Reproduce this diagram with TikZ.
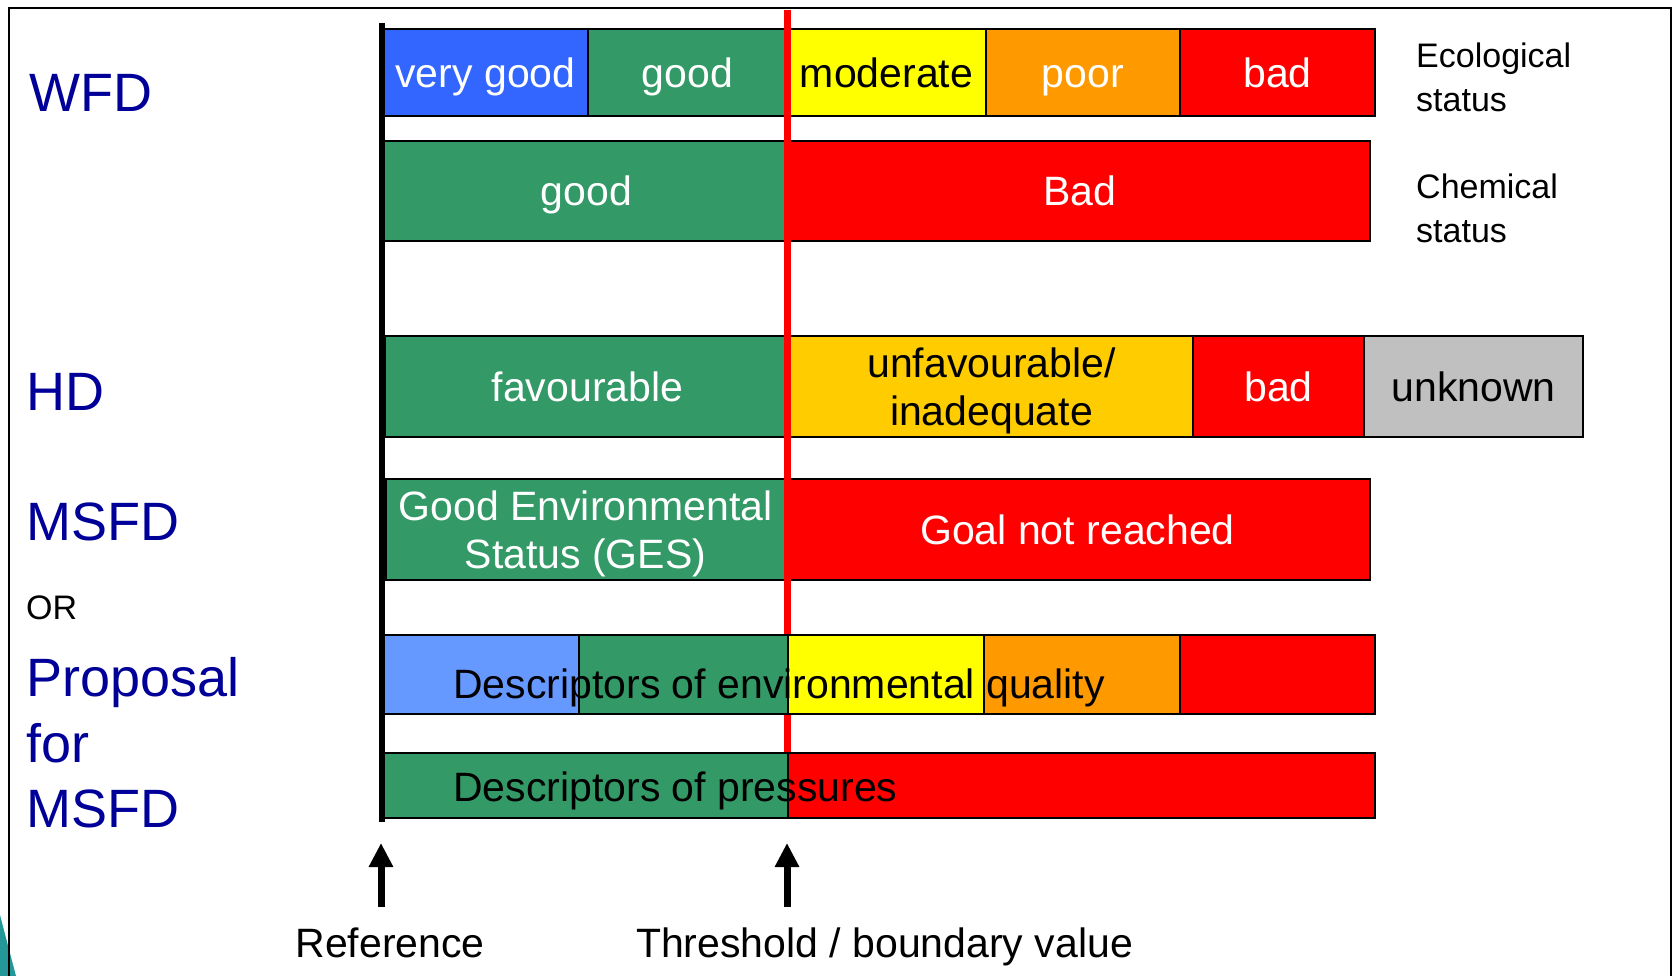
\documentclass[tikz,border=0pt]{standalone}
\usepackage{fontspec}
\setmainfont{Liberation Sans}
\usetikzlibrary{arrows.meta}
\definecolor{sblue}{RGB}{51,102,255}
\definecolor{lblue}{RGB}{102,153,255}
\definecolor{sgreen}{RGB}{51,153,102}
\definecolor{syellow}{RGB}{255,255,0}
\definecolor{sorange}{RGB}{255,153,0}
\definecolor{sred}{RGB}{255,0,0}
\definecolor{samber}{RGB}{255,204,0}
\definecolor{sgrey}{RGB}{192,192,192}
\definecolor{navy}{RGB}{0,0,153}
\definecolor{corner}{RGB}{36,152,152}

\tikzset{
	seg/.style={draw=black, line width=2pt, inner sep=0pt, anchor=north west,
		text=white, align=center, font=\fontsize{41}{48}\selectfont},
	one/.style={text height=29.5pt, text depth=0pt},
	two/.style={text depth=0pt},
	dir/.style={text=navy, inner sep=0pt, font=\fontsize{54}{65.5}\selectfont},
	side/.style={inner sep=0pt, align=left, anchor=north west, font=\fontsize{34}{44}\selectfont},
	foot/.style={inner sep=0pt, anchor=base, font=\fontsize{41}{48}\selectfont},
	limit/.style={draw=sred, line width=7pt},
	up/.style={line width=7pt, -{Triangle[length=24pt,width=23pt]}}
}

\begin{document}
\begin{tikzpicture}[x=1pt, y=-1pt]
			\useasboundingbox (0,0) rectangle (1676,976);
			\fill[corner] (0,915) -- (16,976) -- (0,976) -- cycle;
			\draw[line width=1.5pt] (9,980) -- (9,8) -- (1671,8) -- (1671,980);

			% WFD
			\node[seg, one, fill=sblue, minimum width=205, minimum height=87] (vg) at (382,28) {very good};
			\node[seg, one, fill=sgreen, minimum width=199, minimum height=87] (g) at (587,28) {good};
			\node[seg, one, fill=syellow, text=black, minimum width=199, minimum height=87] (m) at (786,28) {moderate};
			\node[seg, one, fill=sorange, minimum width=194, minimum height=87] (p) at (985,28) {poor};
			\node[seg, one, fill=sred, minimum width=195, minimum height=87] (b) at (1179,28) {bad};

			\node[seg, one, fill=sgreen, minimum width=407, minimum height=100] (cg) at (382,140) {good};
			\node[seg, one, fill=sred, minimum width=580, minimum height=100] (cb) at (789,140) {Bad};

			% HD
			\node[seg, one, fill=sgreen, minimum width=405, minimum height=101] (fav) at (384,335) {favourable};
			\node[seg, two, fill=samber, text=black, minimum width=403, minimum height=101] (unfav) at (789,335) {unfavourable/\\inadequate};
			\node[seg, one, fill=sred, minimum width=171, minimum height=101] (hb) at (1192,335) {bad};
			\node[seg, one, fill=sgrey, text=black, minimum width=219, minimum height=101] (unk) at (1363,335) {unknown};

			% MSFD
			\node[seg, two, fill=sgreen, minimum width=399, minimum height=101] (ges) at (385,478) {Good Environmental\\Status (GES)};
			\node[seg, one, fill=sred, minimum width=585, minimum height=101] (nr) at (784,478) {Goal not reached};

			\coordinate (T1) at (787.5,10);
			\coordinate (T2) at (787.5,752);
			\draw[limit] (T1) -- (T2);

			% proposal
			\foreach \x/\w/\c [count=\i] in {382/196/lblue, 578/209/sgreen, 787/196/syellow, 983/196/sorange, 1179/195/sred}
			\node[seg, fill=\c, minimum width=\w, minimum height=79] (E\i) at (\x,634) {};
			\node[anchor=base west, inner sep=0pt, font=\fontsize{41}{48}\selectfont] (Etext) at (453,698) {Descriptors of environmental quality};

			\node[seg, fill=sgreen, minimum width=405, minimum height=65] (P1) at (382,752) {};
			\node[seg, fill=sred, minimum width=587, minimum height=65] (P2) at (787,752) {};
			\node[anchor=base west, inner sep=0pt, font=\fontsize{41}{48}\selectfont] (Ptext) at (453,801) {Descriptors of pressures};

			\coordinate (A1) at (382,23);
			\coordinate (A2) at (382,822);
			\draw[line width=6pt] (A1) -- (A2);

			\coordinate (R1) at (381,907);
			\coordinate (R2) at (381,843);
			\coordinate (B1) at (787,907);
			\coordinate (B2) at (787,843);
			\draw[up] (R1) -- (R2);
			\draw[up] (B1) -- (B2);

			\node[foot] (ref) at (390,957) {Reference};
			\node[foot] (bv) at (884.5,957) {Threshold / boundary value};

			\node[dir, anchor=base west] (wfd) at (29,112) {WFD};
			\node[dir, anchor=base west] (hd) at (26,410) {HD};
			\node[dir, anchor=base west] (msfd) at (26,540) {MSFD};
			\node[anchor=base west, inner sep=0pt, font=\fontsize{34}{40}\selectfont] (or) at (26,619) {OR};
			\node[dir, align=left, anchor=north west] (prop) at (26,657.6) {Proposal\\for\\MSFD};

			\node[side] (eco) at (1416,43) {Ecological\\status};
			\node[side] (chem) at (1416,174) {Chemical\\status};
		\end{tikzpicture}
\end{document}
